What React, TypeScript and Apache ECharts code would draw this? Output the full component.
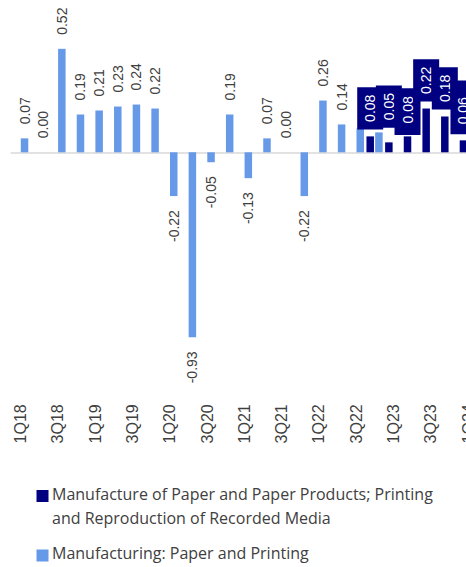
import React, { useEffect, useRef } from "react";
import * as echarts from "echarts";

// ---- data ----
const categories = [
  "1Q18", "2Q18", "3Q18", "4Q18", "1Q19", "2Q19", "3Q19", "4Q19",
  "1Q20", "2Q20", "3Q20", "4Q20", "1Q21", "2Q21", "3Q21", "4Q21",
  "1Q22", "2Q22", "3Q22", "4Q22", "1Q23", "2Q23", "3Q23", "4Q23", "1Q24",
];
const seriesNames = [
  "Manufacture of Paper and Paper Products; Printing and Reproduction of Recorded Media",
  "Manufacturing: Paper and Printing",
];
const paperProducts = [
  null, null, null, null, null, null, null, null,
  null, null, null, null, null, null, null, null,
  null, null, 0.08, 0.05, 0.08, 0.22, 0.18, 0.06, null,
];
const paperPrinting = [
  0.07, 0.0, 0.52, 0.19, 0.21, 0.23, 0.24, 0.22,
  -0.22, -0.93, -0.05, 0.19, -0.13, 0.07, 0.0, -0.22,
  0.26, 0.14, 0.12, 0.1, null, null, null, null, null,
];

// ---- styling ----
const DARK = "#000080";
const LIGHT = "#6699e8";
const TEXT = "#404040";
const LABEL_FONT = "Arial";
const LEGEND_FONT = "16px 'Open Sans'";
const CAT_W = 18.65;
const BAR_LEFT = 20.2;
const AXIS_LEFT = 11.2;
const ZERO_Y = 152.3;
const PX_PER_UNIT = 199;
const Y_MIN = -1;
const Y_MAX = 0.6;
const GRID_TOP = ZERO_Y - Y_MAX * PX_PER_UNIT;
const GRID_H = (Y_MAX - Y_MIN) * PX_PER_UNIT;
const darkLabelTweaks: Record<number, any> = {
  19: { distance: 14.6 },
  20: { distance: 1.5, padding: [6, 8, 6, 11.5] },
  23: { distance: 6, padding: [6, 16.5, 6, 10] },
};

const fmt = (p: any) => {
  const v = typeof p.value === "number" ? p.value : p.value?.value;
  return v == null ? "" : Number(v).toFixed(2);
};

export default function App() {
  const ref = useRef<HTMLDivElement>(null);
  useEffect(() => {
    if (!ref.current) return;
    const chart = echarts.init(ref.current, null, { renderer: "svg" });
    const gridW = categories.length * CAT_W;

    const lightData = paperPrinting.map((v, i) => {
      if (v == null) return null;
      // label hidden behind the other series' label where both exist
      if (paperProducts[i] != null) return { value: v, label: { show: false } };
      if (v < 0) return { value: v, label: { position: "bottom", align: "right" } };
      return { value: v };
    });
    const darkData = paperProducts.map((v, i) => {
      if (v == null) return null;
      const t = darkLabelTweaks[i];
      return t ? { value: v, label: { ...t } } : { value: v };
    });

    chart.setOption({
      animation: false,
      grid: [
        { left: AXIS_LEFT, top: 0, width: gridW, height: ZERO_Y },
        { left: BAR_LEFT, top: GRID_TOP, width: gridW, height: GRID_H },
      ],
      xAxis: [
        {
          type: "category",
          gridIndex: 0,
          data: categories,
          position: "bottom",
          axisLine: { show: true, onZero: false, lineStyle: { color: "#d9d9d9", width: 1.5 } },
          axisTick: { show: false },
          axisLabel: {
            interval: 1,
            rotate: 90,
            margin: 252,
            fontSize: 16,
            color: TEXT,
            fontFamily: LABEL_FONT,
          },
          splitLine: { show: false },
        },
        {
          type: "category",
          gridIndex: 1,
          data: categories,
          show: false,
        },
      ],
      yAxis: [
        { type: "value", gridIndex: 0, show: false, min: 0, max: 1 },
        { type: "value", gridIndex: 1, show: false, min: Y_MIN, max: Y_MAX, splitLine: { show: false } },
      ],
      series: [
        {
          name: seriesNames[1],
          type: "bar",
          xAxisIndex: 1,
          yAxisIndex: 1,
          data: lightData,
          barWidth: 7.5,
          barGap: "33%",
          itemStyle: { color: LIGHT },
          label: {
            show: true,
            position: "top",
            rotate: 90,
            align: "left",
            verticalAlign: "middle",
            distance: 14,
            fontSize: 14,
            color: TEXT,
            fontFamily: LABEL_FONT,
            formatter: fmt,
          },
          z: 2,
        },
        {
          name: seriesNames[0],
          type: "bar",
          xAxisIndex: 1,
          yAxisIndex: 1,
          data: darkData,
          barWidth: 7.5,
          barGap: "33%",
          itemStyle: { color: DARK },
          label: {
            show: true,
            position: "top",
            rotate: 90,
            align: "left",
            verticalAlign: "middle",
            distance: 7,
            fontSize: 14,
            color: "#ffffff",
            backgroundColor: DARK,
            padding: [6, 7.5, 6, 7.5],
            fontFamily: LABEL_FONT,
            formatter: fmt,
          },
          z: 3,
        },
      ],
      graphic: [
        {
          type: "rect",
          x: 36.5,
          y: 490,
          shape: { width: 12, height: 12 },
          style: { fill: DARK },
        },
        {
          type: "text",
          x: 52,
          y: 482.5,
          style: {
            text: "Manufacture of Paper and Paper Products; Printing\nand Reproduction of Recorded Media",
            font: LEGEND_FONT,
            fill: TEXT,
            lineHeight: 23.7,
            verticalAlign: "top",
          },
        },
        {
          type: "rect",
          x: 36.5,
          y: 549.5,
          shape: { width: 12, height: 12 },
          style: { fill: LIGHT },
        },
        {
          type: "text",
          x: 52,
          y: 541,
          style: {
            text: seriesNames[1],
            font: LEGEND_FONT,
            fill: TEXT,
            lineHeight: 23.7,
            verticalAlign: "top",
          },
        },
      ],
    });
    return () => chart.dispose();
  }, []);

  return (
    <div
      style={{
        position: "fixed",
        left: 0,
        top: 0,
        width: 466,
        height: 567,
        overflow: "hidden",
        background: "#fff",
      }}
    >
      <div ref={ref} style={{ width: 500, height: 567 }} />
    </div>
  );
}
